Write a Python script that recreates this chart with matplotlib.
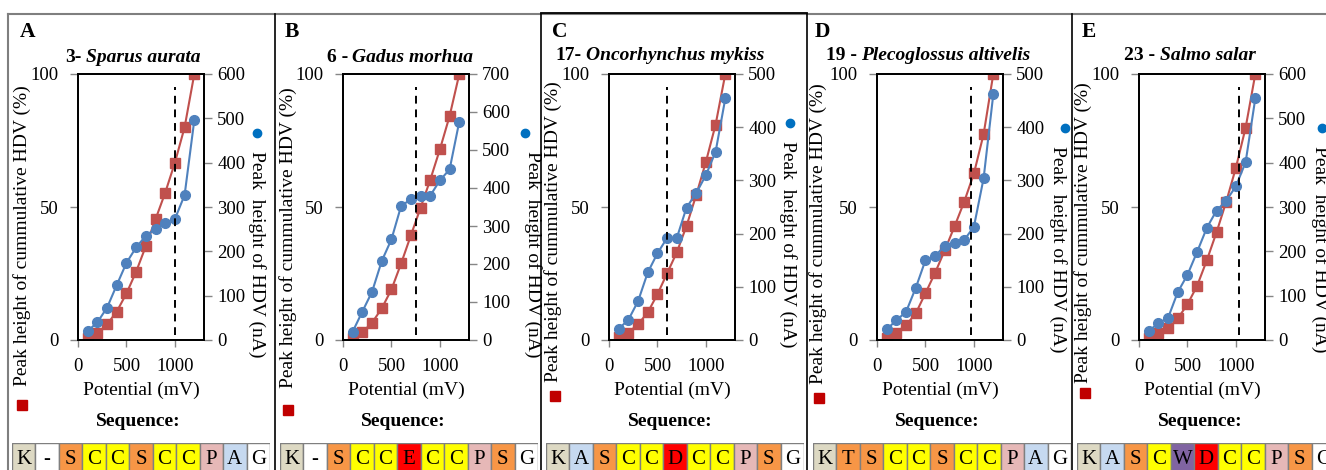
import matplotlib
matplotlib.use("Agg")
import matplotlib.pyplot as plt
from matplotlib.lines import Line2D

plt.rcParams['font.family'] = ['Liberation Serif', 'DejaVu Serif']
plt.rcParams['font.size'] = 13

W, H = 1326, 470

potential = [100, 200, 300, 400, 500, 600, 700, 800, 900, 1000, 1100, 1200]

letters = ['A', 'B', 'C', 'D', 'E']
numbers = ['3-', '6 -', '17-', '19 -', '23 -']
species = ['Sparus aurata', 'Gadus morhua', 'Oncorhynchus mykiss',
           'Plecoglossus altivelis', 'Salmo salar']

cumulative_a = [0.9, 2.5, 5.9, 10.7, 17.5, 25.7, 35.3, 45.4, 55.4, 66.7, 80, 100]
cumulative_b = [0.6, 2.9, 6.5, 11.9, 19, 28.8, 39.3, 49.7, 60.2, 71.7, 84.2, 100]
cumulative_c = [1, 2.8, 5.9, 10.4, 17.2, 25.1, 33, 42.9, 54.5, 67, 81, 100]
cumulative_d = [0.9, 2.8, 5.6, 10, 17.6, 25.3, 33.8, 42.7, 52, 62.6, 77.4, 100]
cumulative_e = [0.9, 2.8, 4.4, 8.1, 13.4, 20.4, 30, 40.5, 52, 64.8, 79.8, 100]

peak_a = [20, 40, 73, 124, 174, 209, 235, 251, 265, 273, 327, 496]
peak_b = [22, 75, 127, 208, 265, 353, 370, 380, 380, 420, 449, 575]
peak_c = [21, 38, 73, 127, 163, 192, 192, 249, 276, 310, 354, 454]
peak_d = [20, 37, 53, 98, 150, 158, 177, 183, 188, 213, 304, 462]
peak_e = [20, 38, 50, 108, 147, 199, 253, 292, 314, 347, 401, 545]

peak_max = [600, 700, 500, 500, 600]
threshold = [1000, 750, 600, 970, 1035]

sequences = [
    ['K', '-', 'S', 'C', 'C', 'S', 'C', 'C', 'P', 'A', 'G'],
    ['K', '-', 'S', 'C', 'C', 'E', 'C', 'C', 'P', 'S', 'G'],
    ['K', 'A', 'S', 'C', 'C', 'D', 'C', 'C', 'P', 'S', 'G'],
    ['K', 'T', 'S', 'C', 'C', 'S', 'C', 'C', 'P', 'A', 'G'],
    ['K', 'A', 'S', 'C', 'W', 'D', 'C', 'C', 'P', 'S', 'G'],
]

residue_colors = {'K': '#ddd9c3', '-': 'white', 'S': '#f79646', 'T': '#f79646',
                  'C': '#ffff00', 'E': '#ff0000', 'D': '#ff0000', 'P': '#e6b8b7',
                  'A': '#c6d9f0', 'W': '#8064a2', 'G': 'white'}

cumulative = [cumulative_a, cumulative_b, cumulative_c, cumulative_d, cumulative_e]
peaks = [peak_a, peak_b, peak_c, peak_d, peak_e]

axes_left = [78, 343, 609, 877, 1139]
axes_width = 126
axes_top, axes_bottom = 74, 340
panel_letter_x = [20, 285, 552, 815, 1082]
title_cx = [133, 400, 660, 928, 1190]
title_y = [57, 57, 55, 56, 55]
left_label_x = [22, 288, 553, 818, 1083]
left_label_y = [236, 238, 232, 234, 233]
red_mark = [(22, 405), (288, 410), (555, 396), (819, 398), (1085, 393)]
right_label_x = [257, 533, 788, 1058, 1320]
blue_mark = [(257, 133), (525, 133), (790, 123), (1065, 128), (1322, 128)]
seq_label_cx = [138, 403, 670, 937, 1200]
seq_left = [12, 280, 546, 813, 1077]
seq_width = 258

RED = '#c0504d'
BLUE = '#4f81bd'
GRAY = '#868686'


def fx(px):
    return px / W


def fy(py):
    return 1 - py / H


def _title(fig, renderer, cx, cy, num, name):
    t1 = fig.text(0, fy(cy), num, fontsize=14, weight='bold', va='center')
    t2 = fig.text(0, fy(cy), name, fontsize=14, weight='bold', style='italic', va='center')
    w1 = t1.get_window_extent(renderer).width
    w2 = t2.get_window_extent(renderer).width
    gap = 4
    x0 = cx - (w1 + gap + w2) / 2
    t1.set_x(fx(x0))
    t2.set_x(fx(x0 + w1 + gap))


fig = plt.figure(figsize=(W / 100, H / 100), dpi=100)
renderer = fig.canvas.get_renderer()

for i in range(5):
    ax = fig.add_axes([fx(axes_left[i]), fy(axes_bottom), axes_width / W, (axes_bottom - axes_top) / H])
    ax2 = ax.twinx()
    ax.plot(potential, cumulative[i], color=RED, lw=1.5, marker='s', ms=6.8, mec=RED, mfc=RED)
    ax2.plot(potential, peaks[i], color=BLUE, lw=1.5, marker='o', ms=7, mec=BLUE, mfc=BLUE)
    ax2.axvline(threshold[i], ymin=0.02, ymax=0.95, color='black', lw=1.4, ls=(0, (4, 3)))

    ax.set_xlim(0, 1300)
    ax.set_ylim(0, 100)
    ax2.set_ylim(0, peak_max[i])
    ax.set_xticks([0, 500, 1000])
    ax.set_yticks([0, 50, 100])
    ax2.set_yticks(range(0, peak_max[i] + 1, 100))
    ax.tick_params(axis='y', direction='out', length=6, width=1, color=GRAY, pad=8, labelsize=13.5)
    ax.tick_params(axis='x', direction='out', length=5, width=1, color=GRAY, pad=8, labelsize=13.5)
    ax2.tick_params(axis='y', direction='out', length=6, width=1, color=GRAY, pad=3.5, labelsize=13.5)
    for a in (ax, ax2):
        for s in a.spines.values():
            s.set_color('black')
            s.set_linewidth(1.3)
    ax.set_xlabel('Potential (mV)', fontsize=14, labelpad=5)

    fig.text(fx(panel_letter_x[i]), fy(32), letters[i], fontsize=15.5, weight='bold', ha='left', va='center')
    _title(fig, renderer, title_cx[i], title_y[i], numbers[i], species[i])

    fig.text(fx(left_label_x[i]), fy(left_label_y[i]), 'Peak height of cummulative HDV (%)',
             rotation=90, ha='center', va='center', fontsize=14)
    fig.add_artist(Line2D([fx(red_mark[i][0])], [fy(red_mark[i][1])], marker='s', ms=7,
                          color='#c00000', transform=fig.transFigure))
    fig.text(fx(right_label_x[i]), fy(blue_mark[i][1] + 18), 'Peak  height of HDV (nA)',
             rotation=270, ha='center', va='top', fontsize=14)
    fig.add_artist(Line2D([fx(blue_mark[i][0])], [fy(blue_mark[i][1])], marker='o', ms=6,
                          color='#0070c0', transform=fig.transFigure))

    fig.text(fx(seq_label_cx[i]), fy(421), 'Sequence:', fontsize=14, weight='bold',
             ha='center', va='center')

    sq = fig.add_axes([fx(seq_left[i]), fy(477), seq_width / W, 34 / H])
    seq = sequences[i]
    sq.bar(range(len(seq)), [1] * len(seq), width=1, align='edge',
           color=[residue_colors[r] for r in seq], edgecolor='#7f7f7f', lw=1)
    for j, r in enumerate(seq):
        sq.text(j + 0.5, 0.5, r, ha='center', va='center', fontsize=15)
    sq.set_xlim(0, len(seq))
    sq.set_ylim(0, 1)
    sq.axis('off')

# panel frames
fig.add_artist(Line2D([fx(8), 1], [fy(14), fy(14)], color='#7f7f7f', lw=1.5, transform=fig.transFigure))
fig.add_artist(Line2D([fx(541), fx(807)], [fy(13), fy(13)], color='black', lw=1.3, transform=fig.transFigure))
fig.add_artist(Line2D([fx(8), fx(8)], [fy(14), 0], color='#7f7f7f', lw=1.5, transform=fig.transFigure))
for x in [275, 541, 807, 1072]:
    fig.add_artist(Line2D([fx(x), fx(x)], [fy(14), 0], color='black', lw=1.2, transform=fig.transFigure))

fig.savefig('out.png', dpi=100)
